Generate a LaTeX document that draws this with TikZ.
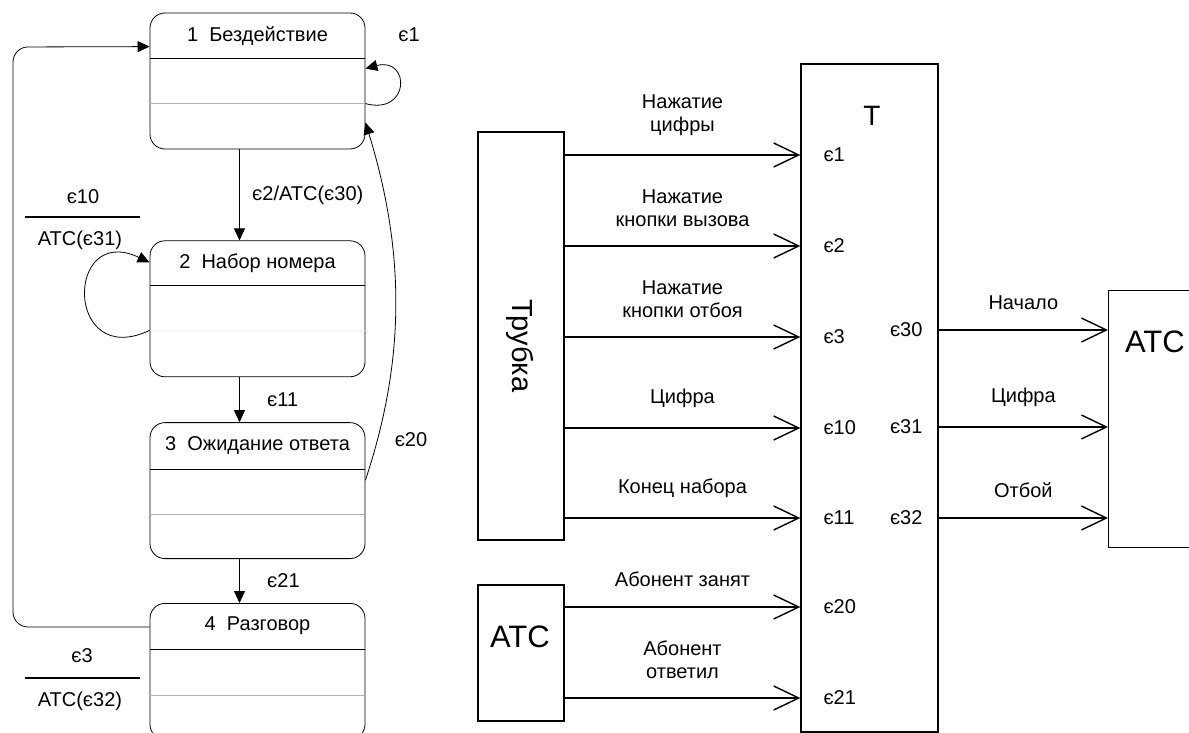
\documentclass[tikz,border=0pt]{standalone}
\usepackage{fontspec}
\setmainfont{Liberation Sans}
\usetikzlibrary{arrows.meta, positioning}

\begin{document}
\begin{tikzpicture}[x=1pt,y=-1pt,font=\fontsize{20}{23}\selectfont]
  \tikzstyle{stbox}=[draw, rounded corners=15pt, minimum width=215pt, minimum height=136pt, line width=0.8pt]
  \tikzstyle{block}=[draw, line width=1.4pt, inner sep=0pt]
  \tikzstyle{fillarr}=[-{Triangle[length=12pt,width=11pt]}, line width=0.8pt]
  \tikzstyle{openarr}=[-{Straight Barb[length=25pt,width=24pt,line width=1.4pt]}, line width=1.4pt]
  \tikzstyle{sep}=[gray!60, line width=0.8pt]
  \useasboundingbox (0,0) rectangle (1189,733);
  \clip (0,0) rectangle (1189,733);

    % states
    \node[stbox]                     (s1) at (257.5,81) {};
    \node[stbox, below=91pt of s1]   (s2) {};
    \node[stbox, below=45pt of s2]   (s3) {};
    \node[stbox, below=44pt of s3]   (s4) {};

    \node (t1) at ([yshift=-23pt]s1.north) {1\ \ Бездействие};
    \node (t2) at ([yshift=-23pt]s2.north) {2\ \ Набор номера};
    \node (t3) at ([yshift=-23pt]s3.north) {3\ \ Ожидание ответа};
    \node (t4) at ([yshift=-23pt]s4.north) {4\ \ Разговор};

    \draw[line width=0.8pt] ([yshift=-46pt]s1.north west) -- ([yshift=-46pt]s1.north east);
    \draw[sep] ([yshift=-91pt]s1.north west) -- ([yshift=-91pt]s1.north east);
    \draw[line width=0.8pt] ([yshift=-45pt]s2.north west) -- ([yshift=-45pt]s2.north east);
    \draw[black!4, line width=0.8pt] ([yshift=-90pt]s2.north west) -- ([yshift=-90pt]s2.north east);
    \draw[line width=0.8pt] ([yshift=-47pt]s3.north west) -- ([yshift=-47pt]s3.north east);
    \draw[sep] ([yshift=-92pt]s3.north west) -- ([yshift=-92pt]s3.north east);
    \draw[line width=0.8pt] ([yshift=-46pt]s4.north west) -- ([yshift=-46pt]s4.north east);
    \draw[sep] ([yshift=-92pt]s4.north west) -- ([yshift=-92pt]s4.north east);

    % transitions
    \draw[fillarr] ([xshift=-18pt]s1.south) -- node[right=9pt] {є2/АТС(є30)} ([xshift=-18pt]s2.north);
    \draw[fillarr] ([xshift=-18pt]s2.south) -- node[right=24pt] {є11} ([xshift=-18pt]s3.north);
    \draw[fillarr] ([xshift=-18pt]s3.south) -- node[right=24pt] {є21} ([xshift=-18pt]s4.north);

    \draw[fillarr] ([yshift=-91pt]s1.north east) .. controls +(45,12) and +(45,-12) .. ([yshift=-56pt]s1.north east);
    \node (e1) at (409,35) {є1};

    \draw[fillarr] ([yshift=-90pt]s2.north west) .. controls +(-85,40) and +(-85,-40) .. ([yshift=-22pt]s2.north west);
    \node (g10) at (83,197) {є10};
    \node (a31) at (80,240) {АТС(є31)};
    \draw[line width=1.2pt] (25,217) -- (140,217);

    \draw[fillarr] ([yshift=-58pt]s3.north east) .. controls +(40,-120) and +(40,130) .. ([yshift=27pt]s1.south east);
    \node (g20) at (411,440) {є20};

    \coordinate (ret) at (13,47);
    \draw[fillarr, rounded corners=15pt] ([yshift=-24pt]s4.north west) -| (ret) -- ([yshift=-34pt]s1.north west);

    \node (g3)  at (82,656) {є3};
    \node (a32) at (80,701) {АТС(є32)};
    \draw[line width=1.2pt] (25,678) -- (140,678);

    % blocks
    \node[block, minimum width=86pt, minimum height=408pt]  (tube) at (521,336) {};
    \node[rotate=-90, font=\fontsize{29}{34}\selectfont] at (520,346) {Трубка};
    \node[block, minimum width=86pt, minimum height=136pt]  (atc1) at (521,653) {};
    \node[font=\fontsize{31}{36}\selectfont] at (520,637) {АТС};
    \node[block, minimum width=137pt, minimum height=668pt] (T) at (869.5,398) {};
    \node[font=\fontsize{28}{32}\selectfont] at (872,116) {Т};
    \node[block, minimum width=100pt, minimum height=257pt, anchor=north west] (atc2) at (1108,290) {};
    \node[font=\fontsize{31}{36}\selectfont] at (1155,342) {АТС};

    % ports of T
    \node[anchor=west] (p1)  at (820,155) {є1};
    \node[anchor=west] (p2)  at (820,246) {є2};
    \node[anchor=west] (p3)  at (820,337) {є3};
    \node[anchor=west] (p10) at (820,428) {є10};
    \node[anchor=west] (p11) at (820,518) {є11};
    \node[anchor=west] (p20) at (820,607) {є20};
    \node[anchor=west] (p21) at (820,698) {є21};
    \node[anchor=east] (p30) at (926,330) {є30};
    \node[anchor=east] (p31) at (926,427) {є31};
    \node[anchor=east] (p32) at (926,518) {є32};

    \draw[openarr] (tube.east |- p1)  -- node[above=15pt, align=center] {Нажатие\\цифры} (T.west |- p1);
    \draw[openarr] (tube.east |- p2)  -- node[above=15pt, align=center] {Нажатие\\кнопки вызова} (T.west |- p2);
    \draw[openarr] (tube.east |- p3)  -- node[above=15pt, align=center] {Нажатие\\кнопки отбоя} (T.west |- p3);
    \draw[openarr] (tube.east |- p10) -- node[above=16pt] {Цифра} (T.west |- p10);
    \draw[openarr] (tube.east |- p11) -- node[above=16pt] {Конец набора} (T.west |- p11);
    \draw[openarr] (atc1.east |- p20) -- node[above=16pt] {Абонент занят} (T.west |- p20);
    \draw[openarr] (atc1.east |- p21) -- node[above=15pt, align=center] {Абонент\\ответил} (T.west |- p21);

    \draw[openarr] (T.east |- p30) -- node[above=16pt] {Начало} (atc2.west |- p30);
    \draw[openarr] (T.east |- p31) -- node[above=16pt] {Цифра} (atc2.west |- p31);
    \draw[openarr] (T.east |- p32) -- node[above=16pt] {Отбой} (atc2.west |- p32);

\end{tikzpicture}
\end{document}
